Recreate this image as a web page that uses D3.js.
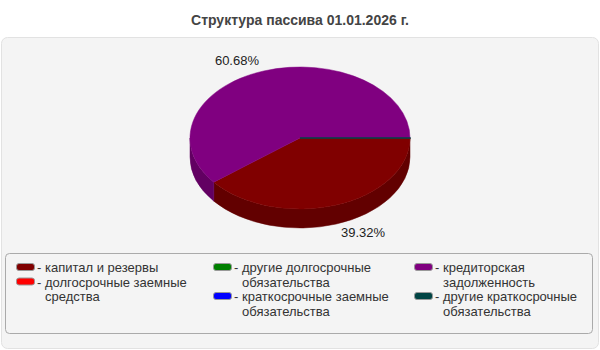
<!DOCTYPE html>
<html>
<head>
<meta charset="utf-8">
<script src="https://cdn.jsdelivr.net/npm/d3@7"></script>
<style>
  body { margin: 0; background: #fff; }
  svg { display: block; font-family: "Liberation Sans", Arial, sans-serif; }
</style>
</head>
<body>
<div id="chart"></div>
<script>
// data
const categories = [
    'капитал и резервы',
    'долгосрочные заемные средства',
    'другие долгосрочные обязательства',
    'краткосрочные заемные обязательства',
    'кредиторская задолженность',
    'другие краткосрочные обязательства'
];
const values = [39.32, 0, 0, 0, 60.68, 0.002];
const colors = ['#800000', '#ff0000', '#008000', '#0000ff', '#800080', '#004444'];
const title = 'Структура пассива 01.01.2026 г.';

const width = 600, height = 350;
const cx = 300, cy = 138, rx = 110, ry = 71, depth = 19;

const svg = d3.select('#chart').append('svg')
    .attr('width', width)
    .attr('height', height);

svg.append('text')
    .attr('x', width / 2)
    .attr('y', 25)
    .attr('text-anchor', 'middle')
    .style('font-size', '14px')
    .style('font-weight', 'bold')
    .style('fill', '#444')
    .text(title);

// panel
svg.append('rect')
    .attr('x', 1.5).attr('y', 37.5)
    .attr('width', 597).attr('height', 311)
    .attr('rx', 6)
    .style('fill', '#f4f4f4')
    .style('stroke', '#e2e2e2');

// pie angles: start at 3 o'clock, clockwise
const pie = d3.pie().sort(null).value(d => d)
    .startAngle(Math.PI / 2).endAngle(Math.PI / 2 + 2 * Math.PI);
const arcs = pie(values).map((d, i) => ({ ...d, i }));

// d3 angle -> point on ellipse
const px = a => cx + rx * Math.sin(a);
const py = a => cy - ry * Math.cos(a);

const darker = c => d3.color(c).darker(0.75).formatHex();

// front walls (screen angle 0..PI, i.e. d3 angle PI/2..3PI/2)
const walls = svg.append('g');
arcs.forEach(d => {
    [0, 2 * Math.PI].forEach(shift => {
        const a0 = Math.max(d.startAngle - shift, Math.PI / 2);
        const a1 = Math.min(d.endAngle - shift, 3 * Math.PI / 2);
        if (a1 < a0 || d.value === 0) return;
        const p = `M${px(a0)},${py(a0)}`
            + `A${rx},${ry} 0 0 1 ${px(a1)},${py(a1)}`
            + `L${px(a1)},${py(a1) + depth}`
            + `A${rx},${ry} 0 0 0 ${px(a0)},${py(a0) + depth}Z`;
        walls.append('path')
            .attr('d', p)
            .style('fill', darker(colors[d.i]))
            .style('stroke', darker(colors[d.i]))
            .style('stroke-width', d.value < 1 ? 1.5 : 0.5);
    });
});

// tops
const tops = svg.append('g');
arcs.forEach(d => {
    if (d.value === 0) return;
    const large = d.endAngle - d.startAngle > Math.PI ? 1 : 0;
    const p = `M${cx},${cy}L${px(d.startAngle)},${py(d.startAngle)}`
        + `A${rx},${ry} 0 ${large} 1 ${px(d.endAngle)},${py(d.endAngle)}Z`;
    tops.append('path')
        .attr('d', p)
        .style('fill', colors[d.i])
        .style('stroke', colors[d.i])
        .style('stroke-width', d.value < 1 ? 1.5 : 0.5);
});

// percent labels
const total = d3.sum(values);
arcs.filter(d => d.value / total > 0.01).forEach(d => {
    const mid = (d.startAngle + d.endAngle) / 2;
    const s = Math.sin(mid), c = -Math.cos(mid);
    const x = cx + rx * 1.74 * s;
    const y = cy + ry * 1.16 * c + (c > 0 ? depth - 2 : 0);
    svg.append('text')
        .attr('x', x).attr('y', y)
        .attr('text-anchor', 'middle')
        .attr('dy', '0.35em')
        .style('font-size', '13px')
        .style('fill', '#222')
        .text(d3.format('.2f')(d.value / total * 100) + '%');
});

// legend
svg.append('rect')
    .attr('x', 5.5).attr('y', 253.5)
    .attr('width', 587).attr('height', 80)
    .attr('rx', 4)
    .style('fill', '#f4f4f4')
    .style('stroke', '#aaa');

const colX = [16, 213, 414];
const lineH = 14.5;
const perCol = 2;
const legend = svg.append('g');
for (let col = 0; col < 3; col++) {
    let y = 272;
    for (let r = 0; r < perCol; r++) {
        const i = col * perCol + r;
        const x = colX[col];
        legend.append('rect')
            .attr('x', x + 0.5).attr('y', y - 8.5)
            .attr('width', 18).attr('height', 7)
            .attr('rx', 2.5)
            .style('fill', colors[i])
            .style('stroke', '#999');
        legend.append('text')
            .attr('x', x + 21).attr('y', y)
            .style('font-size', '13px')
            .style('fill', '#333')
            .text('-');
        const t = legend.append('text')
            .attr('x', x + 29).attr('y', y)
            .style('font-size', '13px')
            .style('fill', '#333');
        // wrap words
        const words = categories[i].split(' ');
        let line = [], tspan = t.append('tspan').attr('x', x + 29).attr('y', y), n = 0;
        words.forEach(w => {
            line.push(w);
            tspan.text(line.join(' '));
            if (tspan.node().getComputedTextLength() > 162 && line.length > 1) {
                line.pop();
                tspan.text(line.join(' '));
                line = [w];
                n++;
                tspan = t.append('tspan').attr('x', x + 29).attr('y', y + n * lineH).text(w);
            }
        });
        y += (n + 1) * lineH;
    }
}
</script>
</body>
</html>
